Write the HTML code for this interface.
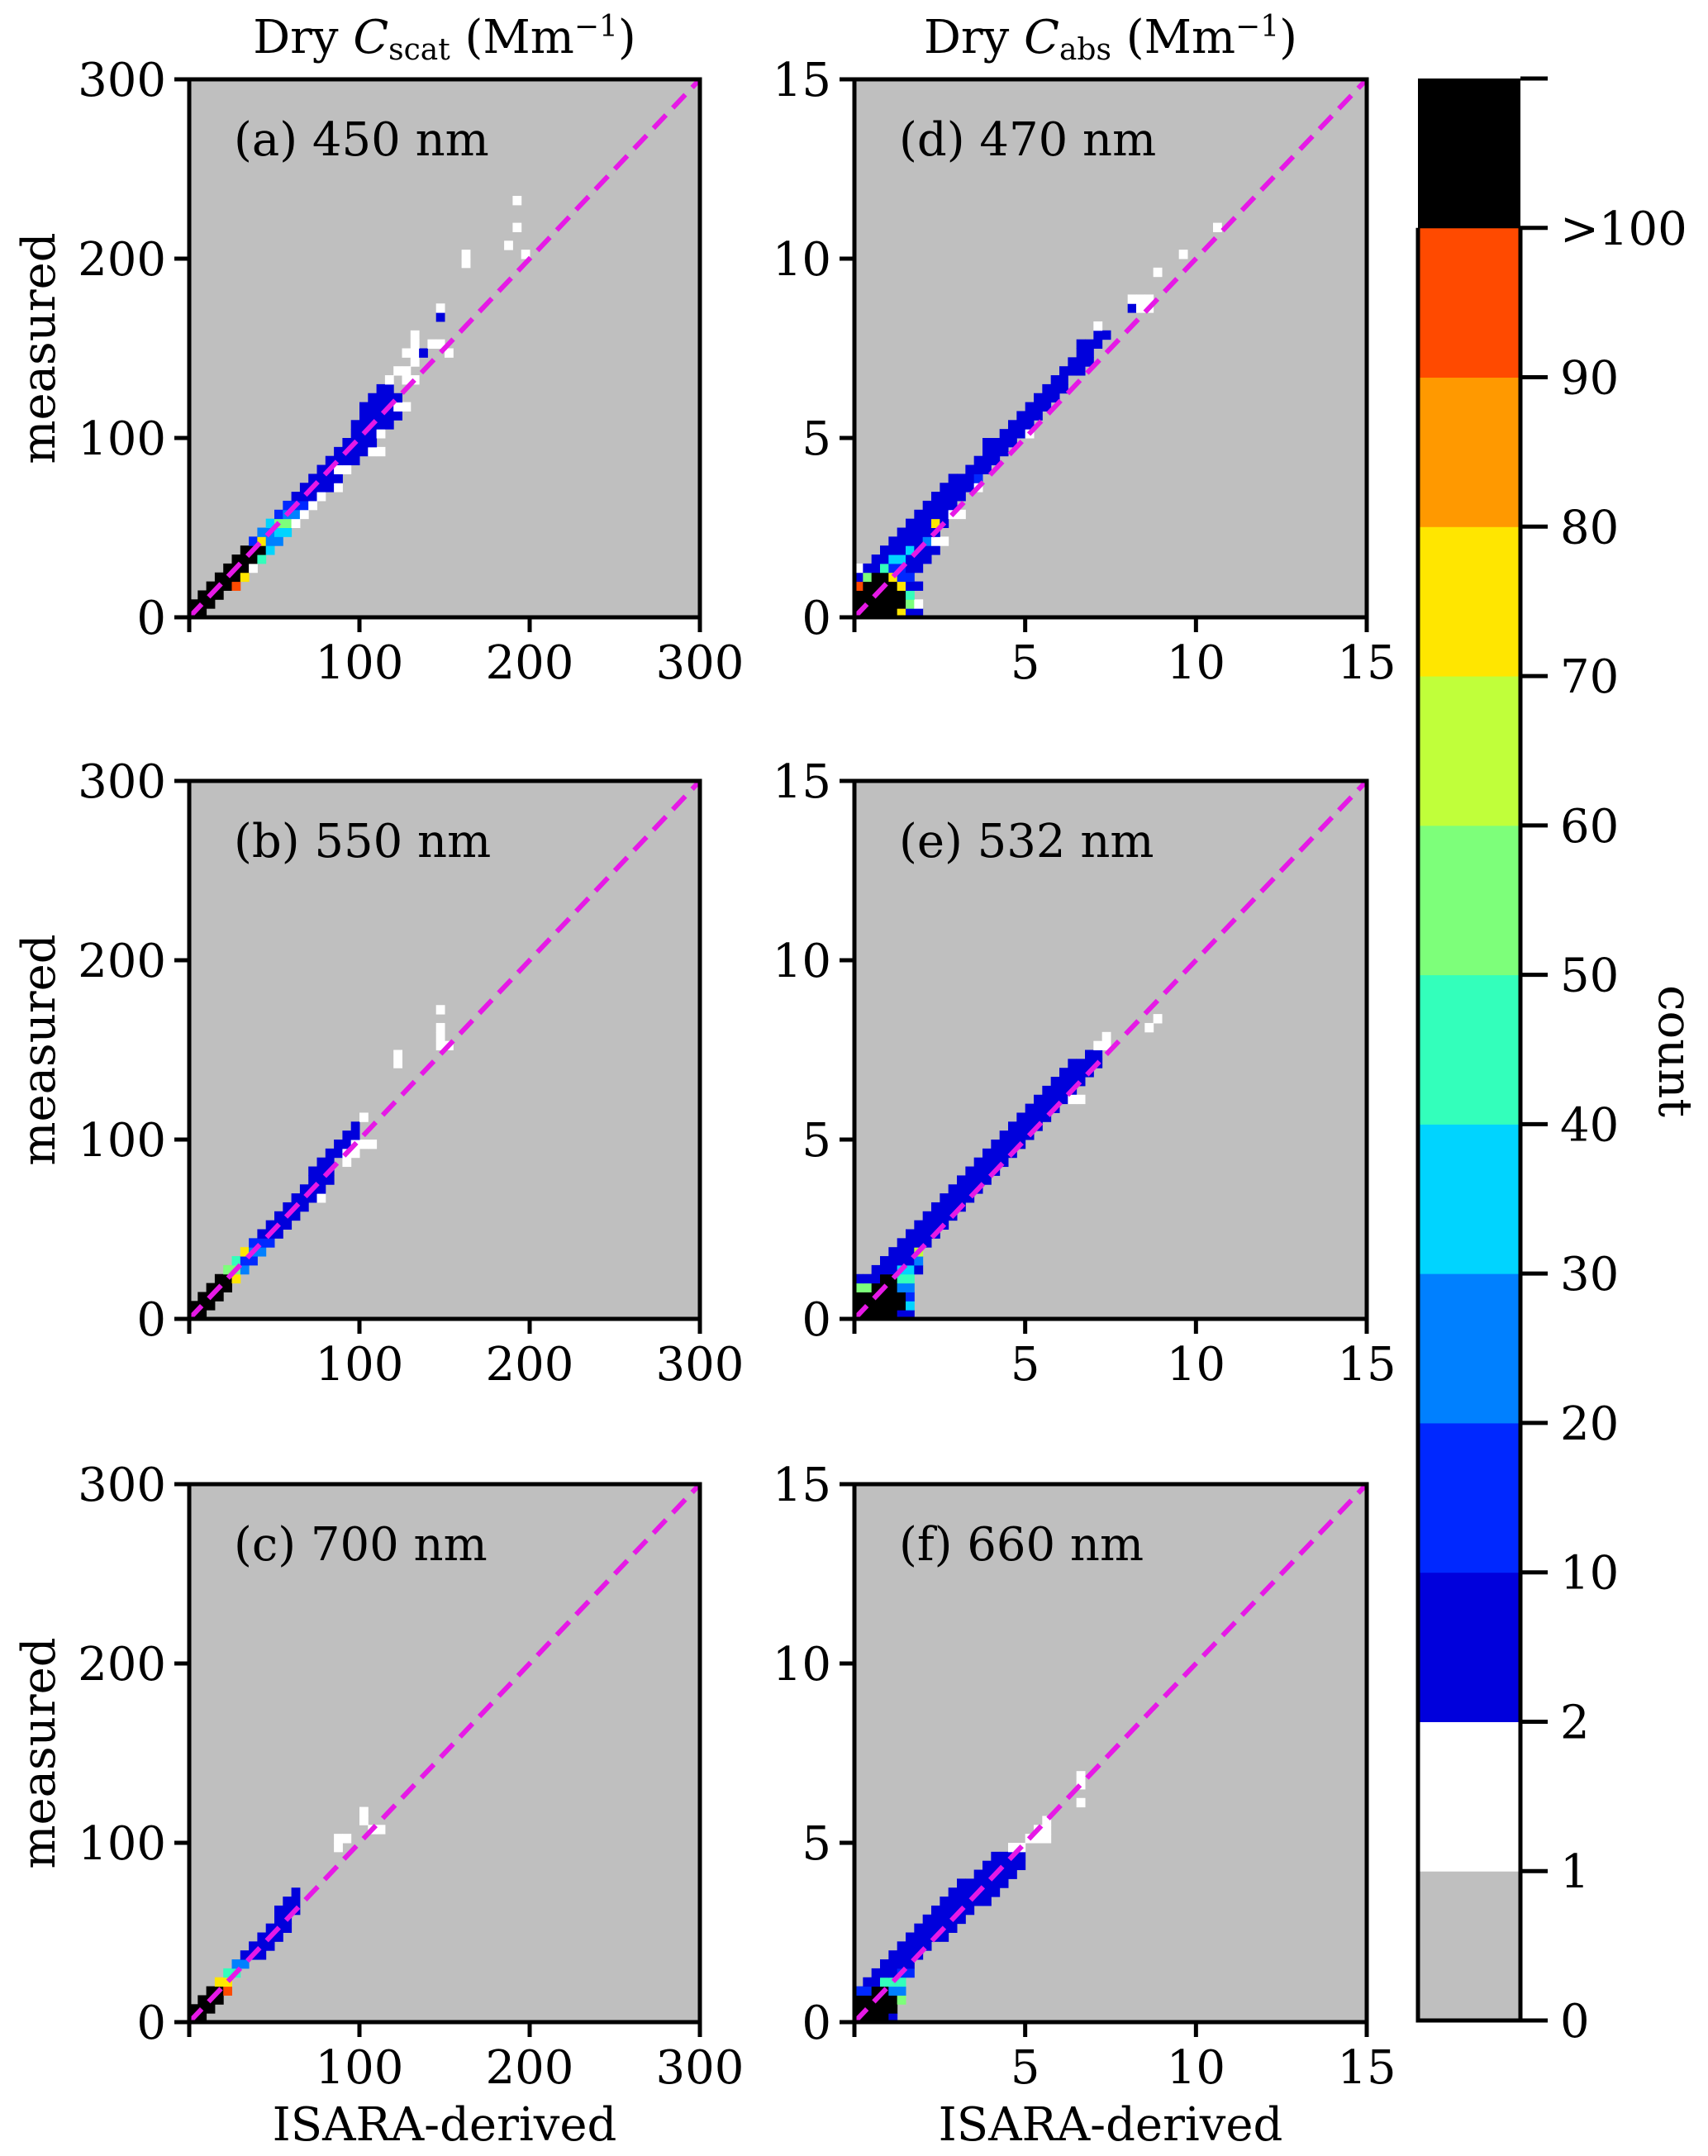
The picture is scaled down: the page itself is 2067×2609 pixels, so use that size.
<!DOCTYPE html>
<html><head><meta charset="utf-8"><style>
html,body{margin:0;padding:0;background:#fff;}
svg{display:block;}
text{font-family:"DejaVu Serif","Liberation Serif",serif;fill:#000;}
</style></head><body>
<svg id="fig" width="2067" height="2609" viewBox="0 0 2067 2609" xmlns="http://www.w3.org/2000/svg"></svg>
<script>
// colorbar levels and colors
const levelBounds = [0,1,2,10,20,30,40,50,60,70,80,90,100];
const levelLabels = ["0","1","2","10","20","30","40","50","60","70","80","90",">100"];
const levelColors = ["#bfbfbf","#ffffff","#0000dc","#0028ff","#0080ff","#00d4ff","#33ffbb","#7dff7a","#c0ff3a","#ffe600","#ff9900","#ff4a00","#000000"];
// axis ticks
const scatTicks = [0,100,200,300];
const absTicks = [0,5,10,15];
const scatMax = 300, absMax = 15;
const scatBin = 5, absBin = 0.25;
const panelTitles = ["(a) 450 nm","(b) 550 nm","(c) 700 nm","(d) 470 nm","(e) 532 nm","(f) 660 nm"];
// runs: [y, x0, x1(inclusive), count]  (data units, bin lower edges)
const runsA = [
 [0,0,5,150],[5,0,10,150],[10,5,15,150],[15,10,20,150],[15,25,25,95],[20,15,25,150],[20,30,30,75],[25,20,30,150],[25,35,35,1],
 [30,25,35,150],[30,40,40,45],[35,30,40,150],[35,45,45,35],[40,35,35,15],[40,40,40,75],[40,45,50,25],
 [45,40,45,25],[45,50,55,35],[50,45,45,35],[50,50,55,55],[50,60,60,1],[55,50,50,15],[55,55,60,25],[55,65,65,1],
 [60,55,65,15],[60,70,70,1],[65,60,70,5],[65,75,75,1],[70,65,80,5],[70,85,85,1],[75,70,85,5],[80,75,80,5],[80,85,90,1],
 [85,80,95,5],[90,85,100,5],[90,105,110,1],[95,90,105,5],[100,95,105,5],[100,110,110,1],[105,95,115,5],[110,100,120,5],
 [115,100,115,5],[115,120,125,1],[120,105,120,5],[125,110,115,5],[130,115,115,1],[130,125,130,1],[135,120,125,1],
 [140,130,130,1],[145,125,130,1],[145,135,135,5],[145,150,150,1],[150,140,145,1],[155,130,130,1],[150,130,130,1],
 [165,145,145,5],[170,145,145,1],[195,160,160,1],[200,160,160,1],[200,195,195,1],[205,185,185,1],[215,190,190,1],[230,190,190,1]
];
const runsB = [
 [0,0,5,150],[5,0,10,150],[10,5,15,150],[15,10,20,150],[20,15,20,150],[20,25,25,75],[25,20,25,55],[25,30,30,25],
 [30,25,25,45],[30,30,35,15],[35,30,30,75],[35,35,40,25],[40,35,45,15],[45,40,50,5],[50,45,55,5],[55,50,60,5],[60,55,65,5],
 [65,60,70,5],[65,75,75,1],[70,65,75,5],[75,70,80,5],[80,70,80,5],[85,75,80,5],[85,90,90,1],[90,80,85,5],[90,90,95,1],
 [95,85,90,5],[95,95,105,1],[100,90,95,5],[105,95,95,5],[110,100,100,1],[140,120,120,1],[145,120,120,1],
 [150,145,150,1],[155,145,145,1],[160,145,145,1],[170,145,145,1]
];
const runsC = [
 [0,0,5,150],[5,0,10,150],[10,5,15,150],[15,10,15,150],[15,20,20,95],[20,15,20,75],[25,20,25,45],[30,25,30,25],
 [35,30,40,5],[40,35,45,5],[45,40,50,5],[50,45,55,5],[55,50,55,5],[60,50,60,5],[65,55,60,5],[70,60,60,5],
 [95,85,85,1],[100,85,90,1],[105,105,110,1],[110,100,100,1],[115,100,100,1]
];
const runsD = [
 [0,0,1,150],[0,1.25,1.25,75],[0,1.5,1.75,5],[0.25,0,1.25,150],[0.25,1.5,1.5,55],[0.25,1.75,1.75,1],
 [0.5,0,1.25,150],[0.5,1.5,1.5,45],[0.75,0,0,95],[0.75,0.25,1,150],[0.75,1.25,1.25,75],[0.75,1.5,1.75,5],
 [1,0,0,5],[1,0.25,0.25,55],[1,0.5,0.75,150],[1,1,1,75],[1,1.25,1.5,15],[1.25,0,0,1],[1.25,0.25,0.5,5],[1.25,0.75,0.75,45],[1.25,1,1.25,15],[1.25,1.5,1.75,5],
 [1.5,0.5,0.75,5],[1.5,1,1.25,35],[1.5,1.5,2,5],[1.75,0.75,1.25,5],[1.75,1.5,1.5,35],[1.75,1.75,2.25,5],[2,1,1.75,5],[2,2,2,25],[2,2.25,2.5,1],
 [2.25,1.25,2.25,5],[2.5,1.5,2,5],[2.5,2.25,2.25,75],[2.5,2.5,2.5,5],[2.75,1.75,2.5,5],[2.75,2.75,3,1],[3,2,2.75,5],[3.25,2.25,3,5],[3.5,2.5,3.25,5],[3.5,3.5,3.5,1],
 [3.75,2.75,3.25,5],[3.75,3.5,3.5,15],[4,3.25,3.75,5],[4.25,3.5,4,5],[4.5,3.75,4.25,5],[4.75,3.75,4.5,5],[5,4.25,4.75,5],[5,5,5,1],[5.25,4.5,5,5],
 [5.5,4.75,5.25,5],[5.75,5,5.5,5],[6,5.25,5.75,5],[6.25,5.5,6,5],[6.5,5.75,6,5],[6.75,6,6.5,5],[7,6.25,6.75,5],
 [7.25,6.5,6.75,5],[7.5,6.5,7,5],[7.75,7,7.25,5],[8,7,7,1],[8.5,8,8,5],[8.5,8.25,8.5,1],[8.75,8,8.5,1],
 [9.5,8.75,8.75,1],[10,9.5,9.5,1],[10.75,10.5,10.5,1]
];
const runsE = [
 [0,0,1,150],[0,1.25,1.5,5],[0.25,0,1.25,150],[0.25,1.5,1.5,35],[0.5,0,1.25,150],[0.5,1.5,1.5,15],[0.75,0,0.25,55],[0.75,0.5,1,150],[0.75,1.25,1.5,25],
 [1,0,0.5,5],[1,0.75,1,150],[1,1.25,1.5,45],[1.25,0.5,1,5],[1.25,1.25,1.5,35],[1.25,1.75,1.75,5],[1.5,0.75,1.5,5],[1.5,1.75,1.75,25],
 [1.75,1,1.5,5],[1.75,1.75,1.75,65],[2,1.25,2,5],[2.25,1.5,2.25,5],[2.5,1.75,2.5,5],[2.75,2,2.75,5],[3,2.25,3,5],
 [3.25,2.5,3.25,5],[3.5,2.75,3.5,5],[3.75,3,3.75,5],[4,3.25,4,5],[4.25,3.5,4.25,5],[4.5,3.75,4.5,5],[4.75,4,4.75,5],
 [5,4.25,5,5],[5.25,4.5,5.25,5],[5.5,4.75,5.5,5],[5.75,5,5.75,5],[6,5.25,6,5],[6.25,5.5,6.25,5],[6.5,5.75,6.5,5],
 [6.75,6,6.75,5],[7,6.25,7,5],[7.25,6.75,7,5],[6,6.25,6.5,1],[7.5,7,7.25,1],[7.75,7.25,7.25,1],[8,8.5,8.5,1],[8.25,8.75,8.75,1]
];
const runsF = [
 [0,0,0.75,150],[0,1,1,5],[0.25,0,1,150],[0.5,0,1,150],[0.5,1.25,1.25,55],[0.75,0,0.25,15],[0.75,0.5,0.75,150],[0.75,1,1.25,25],
 [1,0.25,0.5,5],[1,0.75,1.25,45],[1.25,0.5,1,5],[1.25,1.25,1.5,15],[1.5,0.75,1.5,5],[1.75,1,1.75,5],[2,1.25,2,5],
 [2.25,1.5,2.5,5],[2.5,1.75,2.75,5],[2.75,2,3,5],[3,2.25,3.25,5],[3.25,2.5,3.75,5],[3.5,2.75,4,5],[3.75,3,4.25,5],
 [4,3.5,4.5,5],[4.25,3.75,4.75,5],[4.5,4,4.75,5],[4.75,4.5,4.75,1],[5,5,5.5,1],[5.25,5.25,5.5,1],[5.5,5.5,5.5,1],
 [6,6.5,6.5,1],[6.5,6.5,6.5,1],[6.75,6.5,6.5,1]
];
const panelRuns = [runsA,runsB,runsC,runsD,runsE,runsF];

const NS="http://www.w3.org/2000/svg";
const svg=document.getElementById('fig');
function mk(tag,attrs,parent){const e=document.createElementNS(NS,tag);for(const k in attrs)e.setAttribute(k,attrs[k]);(parent||svg).appendChild(e);return e;}
function colorFor(c){let i=0;for(let k=0;k<levelBounds.length;k++){if(c>=levelBounds[k])i=k;}return levelColors[i];}

const colLeft=[229,1034], colW=[618,620];
const rowTop=[96,945,1796], rowH=651;
const FS=56;

for(let p=0;p<6;p++){
  const col=p<3?0:1,row=p%3;
  const L=colLeft[col],T=rowTop[row],W=colW[col],H=rowH,B=T+H;
  const max=col?absMax:scatMax, bin=col?absBin:scatBin, ticks=col?absTicks:scatTicks;
  const xs=v=>L+v/max*W, ys=v=>B-v/max*H;
  const g=mk('g',{});
  
  
  const bg=mk('rect',{x:L,y:T,width:W,height:H,fill:'#bfbfbf'},g);
  
  
  panelRuns[p].forEach(r=>{
    const n=Math.round((r[2]-r[1])/bin);
    for(let k=0;k<=n;k++){
      const x=r[1]+k*bin;
      const c=mk('rect',{x:xs(x),y:ys(r[0]+bin),width:xs(x+bin)-xs(x)+0.5,height:ys(r[0])-ys(r[0]+bin)+0.5,fill:colorFor(r[3])},g);
      
      
    }
  });
  const ln=mk('line',{x1:xs(0),y1:ys(0),x2:xs(max),y2:ys(max),stroke:'#e619e6','stroke-width':6,'stroke-dasharray':'22 12'},g);
  
  
  const fr=mk('rect',{x:L,y:T,width:W,height:H,fill:'none',stroke:'#000','stroke-width':5},g);
  
  
  ticks.forEach(t=>{
    const a=mk('line',{x1:L-18,x2:L,y1:ys(t),y2:ys(t),stroke:'#000','stroke-width':5},g);
    
    
    const tl=mk('text',{x:L-28,y:ys(t)+20,'text-anchor':'end','font-size':FS},g);
    tl.textContent=String(t);
    
    
    const b=mk('line',{x1:xs(t),x2:xs(t),y1:B,y2:B+18,stroke:'#000','stroke-width':5},g);
    
    
    if(t>0){
      const xl=mk('text',{x:xs(t),y:B+74,'text-anchor':'middle','font-size':FS},g);
      xl.textContent=String(t);
      
      
    }
  });
  const pl=mk('text',{x:L+54,y:T+92,'font-size':FS},g);
  pl.textContent=panelTitles[p];
  
  
  if(col===0){
    const yl=mk('text',{x:0,y:0,'text-anchor':'middle','font-size':FS,transform:`translate(66,${T+H/2}) rotate(-90)`},g);
    yl.textContent='measured';
    
    
  }
  if(row===2){
    const xt=mk('text',{x:L+W/2,y:2590,'text-anchor':'middle','font-size':FS},g);
    xt.textContent='ISARA-derived';
    
    
  }
}
const t1=mk('text',{x:538,y:64,'text-anchor':'middle','font-size':FS});
t1.innerHTML='Dry <tspan font-style="italic">C</tspan><tspan font-size="36" dy="8">scat</tspan><tspan dy="-8"> (Mm</tspan><tspan font-size="36" dy="-20">−1</tspan><tspan dy="20">)</tspan>';


const t2=mk('text',{x:1344,y:64,'text-anchor':'middle','font-size':FS});
t2.innerHTML='Dry <tspan font-style="italic">C</tspan><tspan font-size="36" dy="8">abs</tspan><tspan dy="-8"> (Mm</tspan><tspan font-size="36" dy="-20">−1</tspan><tspan dy="20">)</tspan>';



// colorbar
const cbL=1716,cbR=1840,cbT=95,cbB=2445;
const segH=(cbB-cbT)/levelColors.length;
const cb=mk('g',{});


levelColors.forEach((c,i)=>{
  const y1=cbB-(i+1)*segH;
  const r=mk('rect',{x:cbL,y:y1,width:cbR-cbL,height:segH+0.5,fill:c},cb);
  
  
});
const topY=cbB-(levelColors.length-1)*segH;
const out=mk('path',{d:`M${cbL},${topY} L${cbL},${cbB} L${cbR},${cbB} L${cbR},${topY}`,fill:'none',stroke:'#000','stroke-width':5},cb);


for(let i=0;i<=levelLabels.length;i++){
  const y=cbB-i*segH;
  const tk=mk('line',{x1:cbR,x2:cbR+33,y1:y,y2:y,stroke:'#000','stroke-width':5},cb);
  
  
  if(i<levelLabels.length){
    const tx=mk('text',{x:1888,y:y+20,'font-size':FS},cb);
    tx.textContent=levelLabels[i];
    
    
  }
}
const ct=mk('text',{x:0,y:0,'text-anchor':'middle','font-size':FS,transform:'translate(2008,1272) rotate(90)'},cb);
ct.textContent='count';


</script>
</body></html>
